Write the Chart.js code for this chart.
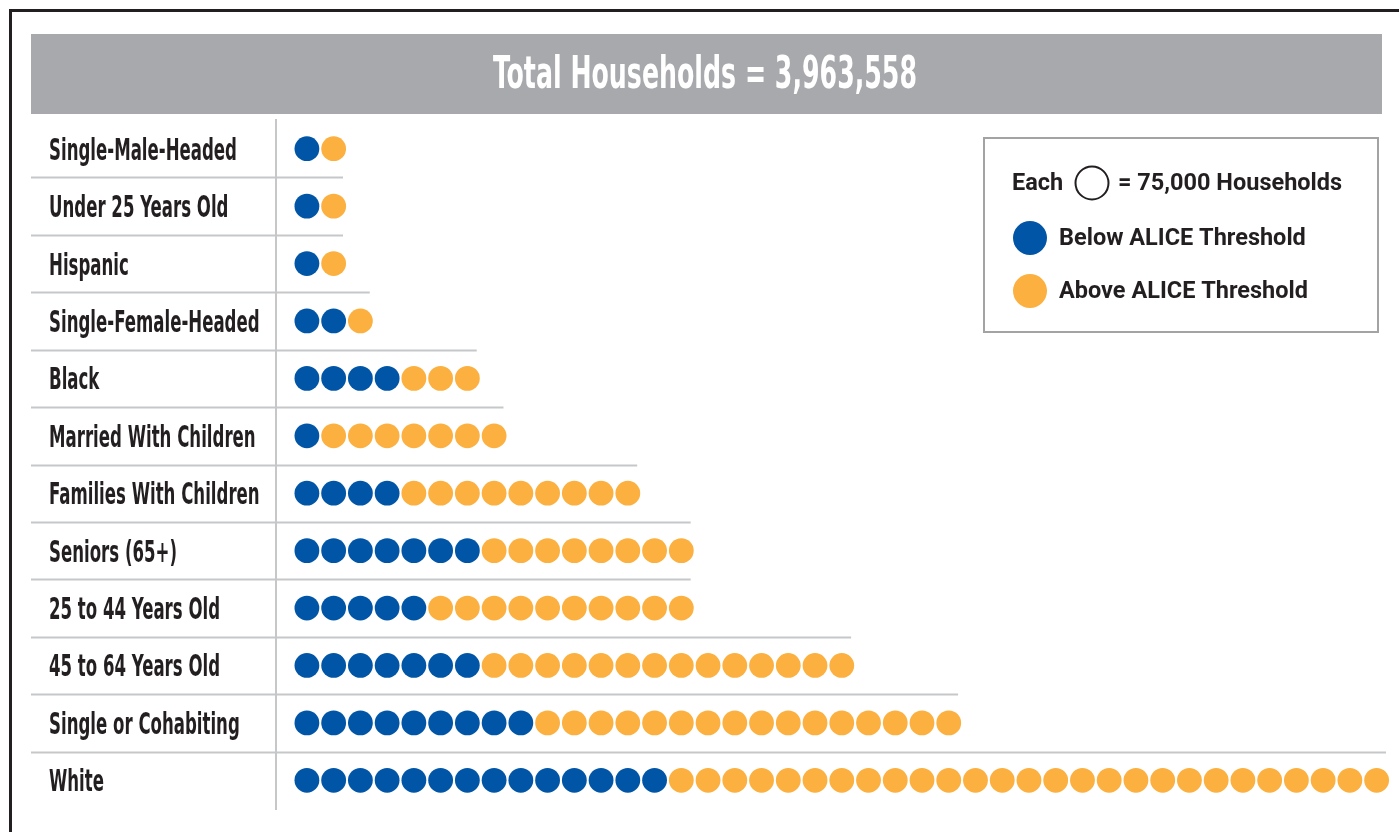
<!DOCTYPE html>
<html>
<head>
<meta charset="utf-8">
<script src="https://cdn.jsdelivr.net/npm/chart.js@4.4.1/dist/chart.umd.min.js"></script>
<style>
  html, body { margin: 0; padding: 0; background: #ffffff; overflow: hidden; }
  canvas { display: block; }
</style>
</head>
<body>
<canvas id="c" width="1399" height="832"></canvas>
<script>
// ---------- data ----------
const categories = [
  'Single-Male-Headed', 'Under 25 Years Old', 'Hispanic', 'Single-Female-Headed',
  'Black', 'Married With Children', 'Families With Children', 'Seniors (65+)',
  '25 to 44 Years Old', '45 to 64 Years Old', 'Single or Cohabiting', 'White'
];
const belowDots = [1, 1, 1, 2, 4, 1, 4, 7, 5, 7, 9, 14];
const aboveDots = [1, 1, 1, 1, 3, 7, 9, 8, 10, 14, 16, 27];
const seriesLabels = ['Below ALICE Threshold', 'Above ALICE Threshold'];
const titleText = 'Total Households = 3,963,558';
const unitPrefix = 'Each';
const unitSuffix = '= 75,000 Households';

// ---------- styles ----------
const BLUE = '#0055a6';
const GOLD = '#fbb040';
const INK = '#231f20';
const RULE = '#c6c7c9';
const HEADER = '#a7a9ac';
const NARROW = '"Liberation Sans Narrow", "DejaVu Sans Condensed", "Arial Narrow", sans-serif';

// build one point per dot from the arrays
const bluePts = [], goldPts = [];
categories.forEach((cat, ci) => {
  for (let k = 0; k < belowDots[ci]; k++) bluePts.push({ x: k, y: cat });
  for (let k = 0; k < aboveDots[ci]; k++) goldPts.push({ x: belowDots[ci] + k, y: cat });
});

const decor = {
  id: 'decor',
  beforeDraw(chart) {
    const ctx = chart.ctx;
    ctx.save();
    // outer frame
    ctx.fillStyle = INK;
    ctx.fillRect(9, 9, 1390, 3);
    ctx.fillRect(9, 9, 3, 823);
    // header band
    ctx.fillStyle = HEADER;
    ctx.fillRect(31, 34, 1351, 80);
    // title (condensed)
    ctx.font = '700 44px ' + NARROW;
    const tw = ctx.measureText(titleText).width;
    const sx = 424 / tw;
    ctx.fillStyle = '#ffffff';
    ctx.textBaseline = 'alphabetic';
    ctx.textAlign = 'left';
    ctx.translate(705 - 212, 88);
    ctx.scale(sx, 1);
    ctx.fillText(titleText, 0, 0);
    ctx.restore();

    // separators between rows
    const ys = chart.scales.y, xs = chart.scales.x;
    ctx.save();
    ctx.strokeStyle = RULE;
    ctx.lineWidth = 2;
    for (let i = 0; i < categories.length - 1; i++) {
      const yy = Math.round((ys.getPixelForValue(i) + ys.getPixelForValue(i + 1)) / 2) + 0.5;
      const n = Math.max(belowDots[i] + aboveDots[i], belowDots[i + 1] + aboveDots[i + 1]);
      const xEnd = xs.getPixelForValue(n - 1 + 0.35);
      ctx.beginPath();
      ctx.moveTo(31, yy);
      ctx.lineTo(xEnd, yy);
      ctx.stroke();
    }
    ctx.restore();

    // row labels (condensed)
    ctx.save();
    ctx.font = '700 30px ' + NARROW;
    const lw = ctx.measureText(categories[0]).width;
    const lsx = 188 / lw;
    ctx.fillStyle = INK;
    ctx.textBaseline = 'alphabetic';
    ctx.textAlign = 'left';
    categories.forEach((cat, i) => {
      const y = ys.getPixelForValue(i);
      ctx.save();
      ctx.translate(49, y + 11);
      ctx.scale(lsx, 1);
      ctx.fillText(cat, 0, 0);
      ctx.restore();
    });
    ctx.restore();

    // legend box
    ctx.save();
    ctx.strokeStyle = '#a3a3a3';
    ctx.lineWidth = 2;
    ctx.strokeRect(984, 138, 394, 194);
    ctx.font = '700 23.5px Roboto, "Noto Sans", sans-serif';
    ctx.fillStyle = INK;
    ctx.textBaseline = 'middle';
    ctx.textAlign = 'left';
    ctx.fillText(unitPrefix, 1012, 184);
    ctx.beginPath();
    ctx.lineWidth = 2;
    ctx.strokeStyle = INK;
    ctx.arc(1092, 183, 16.5, 0, Math.PI * 2);
    ctx.stroke();
    ctx.fillText(unitSuffix, 1118, 184);
    chart.data.datasets.forEach((ds, i) => {
      const cy = 238 + i * 53;
      ctx.beginPath();
      ctx.fillStyle = ds.backgroundColor;
      ctx.arc(1030, cy, 17, 0, Math.PI * 2);
      ctx.fill();
      ctx.fillStyle = INK;
      ctx.fillText(ds.label, 1059, cy + 1);
    });
    ctx.restore();
  }
};

new Chart(document.getElementById('c'), {
  type: 'scatter',
  data: {
    datasets: [
      { label: seriesLabels[0], data: bluePts, backgroundColor: BLUE, borderWidth: 0,
        pointRadius: 12.4, pointHoverRadius: 12.4, clip: false },
      { label: seriesLabels[1], data: goldPts, backgroundColor: GOLD, borderWidth: 0,
        pointRadius: 12.4, pointHoverRadius: 12.4, clip: false }
    ]
  },
  options: {
    responsive: false,
    devicePixelRatio: 1,
    animation: false,
    layout: { padding: { left: 49, top: 120, right: 9, bottom: 23 } },
    plugins: { legend: { display: false }, tooltip: { enabled: false }, title: { display: false } },
    scales: {
      x: { type: 'linear', min: -1.1556, max: 40.373, display: false },
      y: {
        type: 'category', labels: categories, offset: true,
        grid: { display: false },
        border: { display: true, color: RULE, width: 2 },
        ticks: { display: false },
        afterFit(s) { s.width = 227; }
      }
    }
  },
  plugins: [decor]
});
</script>
</body>
</html>
